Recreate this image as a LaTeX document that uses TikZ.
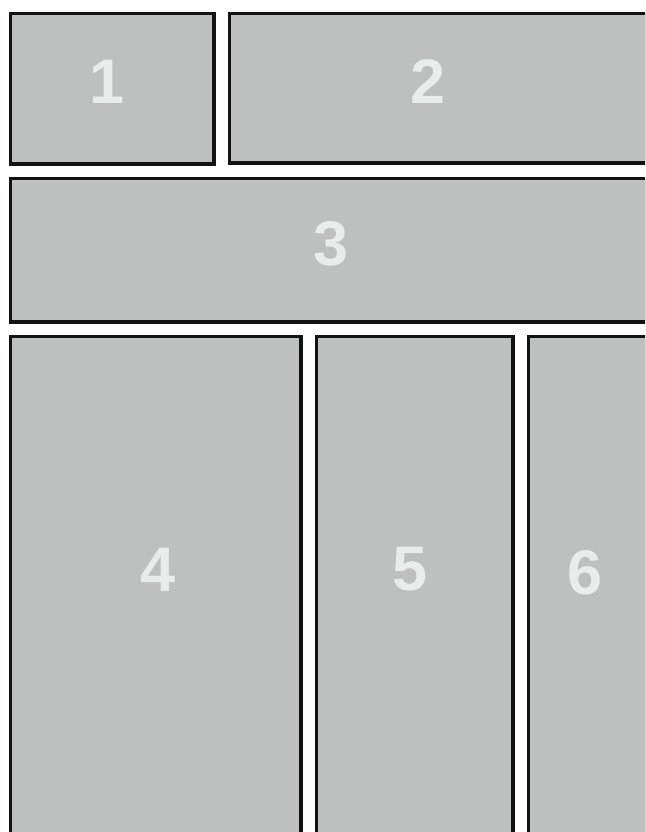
\documentclass[tikz,border=0pt]{standalone}
\usepackage{fontspec}
\setmainfont{Liberation Sans}
\usetikzlibrary{positioning}
\definecolor{panelc}{HTML}{BDC0BF}
\definecolor{numc}{HTML}{E8ECEB}
\definecolor{edgec}{HTML}{121212}

\begin{document}
\begin{tikzpicture}[x=1pt, y=-1pt,
  panel/.style={draw=edgec, fill=panelc, line width=3.5pt, inner sep=0pt, anchor=north west},
  num/.style={text=numc, inner sep=0pt, font=\fontsize{63}{63}\selectfont\bfseries}]
  \useasboundingbox (0,0) rectangle (645,832);
  \clip (0,0) rectangle (645,832);
  \fill[white] (0,0) rectangle (645,832);
  % panels: name / left / top / width / height
  \foreach \n/\x/\y/\w/\h in {1/8.75/11.75/203.5/150.5, 2/227.75/11.75/417/149.5,
                              3/8.75/176.75/636/143.5, 4/8.75/334.75/290.5/510,
                              5/314.75/334.75/196.5/510, 6/526.75/334.75/118/510}
    {\node[panel, minimum width=\w pt, minimum height=\h pt] (p\n) at (\x,\y) {};}
  % numbers
  \foreach \n/\x/\y in {1/107/82, 2/428/82, 3/331/244, 4/158/570, 5/410/569, 6/585/573}
    {\node[num] (n\n) at (\x,\y) {\n};}
\end{tikzpicture}
\end{document}
